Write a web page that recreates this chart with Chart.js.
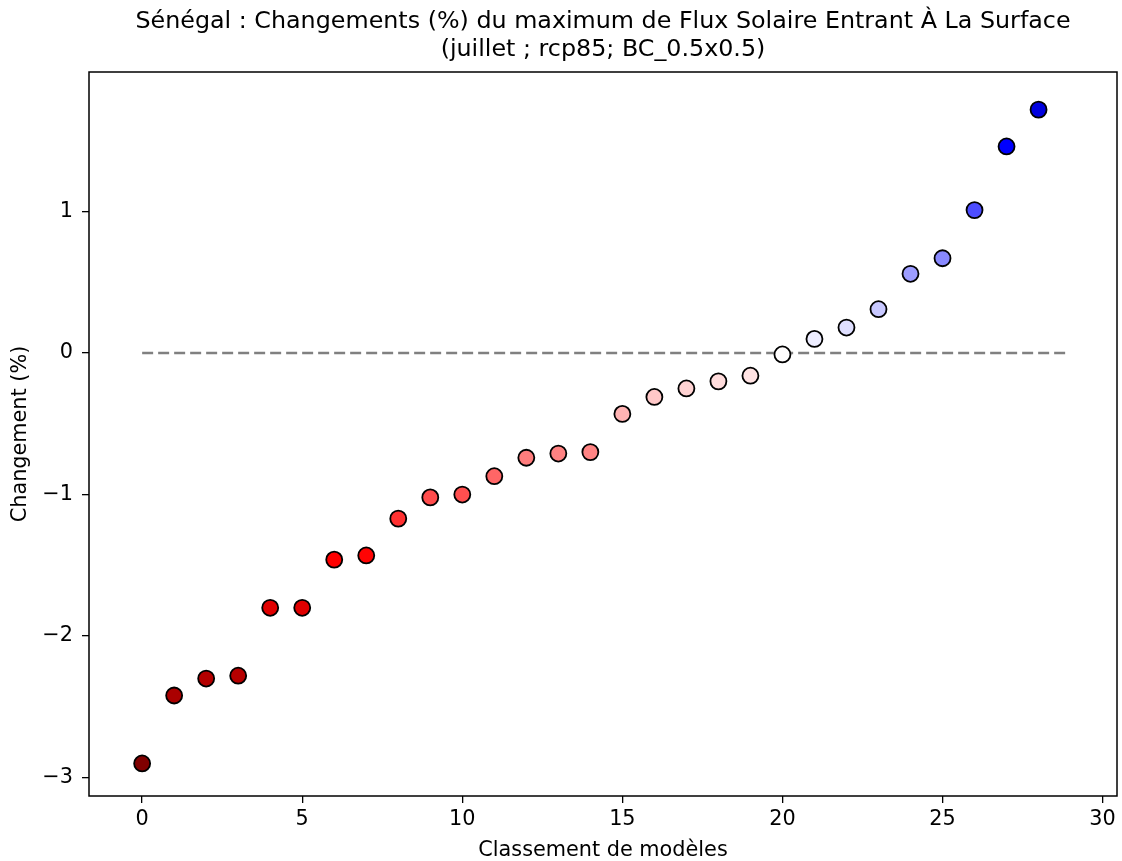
<!DOCTYPE html>
<html>
<head>
<meta charset="utf-8">
<script src="https://cdn.jsdelivr.net/npm/chart.js@4"></script>
<style>
  html, body { margin: 0; padding: 0; background: #fff; }
  #wrap { width: 1122px; height: 861px; }
</style>
</head>
<body>
<div id="wrap"><canvas id="chart" width="1122" height="861"></canvas></div>
<script>
// rang des modèles et changements (%)
var rangs = [0, 1, 2, 3, 4, 5, 6, 7, 8, 9, 10, 11, 12, 13, 14, 15, 16, 17, 18, 19, 20, 21, 22, 23, 24, 25, 26, 27, 28];
var changements = [-2.90, -2.42, -2.30, -2.28, -1.80, -1.80, -1.46, -1.43, -1.17, -1.02, -1.00, -0.87, -0.74, -0.71, -0.70,
                   -0.43, -0.31, -0.25, -0.20, -0.16, -0.01, 0.10, 0.18, 0.31, 0.56, 0.67, 1.01, 1.46, 1.72];
var ligneZeroX = [0, 28.9];
var ticksX = [0, 5, 10, 15, 20, 25, 30];
var ticksY = [-3, -2, -1, 0, 1];
var titre = ['Sénégal : Changements (%) du maximum de Flux Solaire Entrant À La Surface', '(juillet ; rcp85; BC_0.5x0.5)'];

// colormap "seismic_r" normalisée de facon symétrique
function seismicR(v, vmax) {
    var t = 1 - (v + vmax) / (2 * vmax);   // position dans "seismic"
    var r, g, b;
    if (t < 0.25) { r = 0; g = 0; b = 0.3 + 0.7 * t / 0.25; }
    else if (t < 0.5) { var f = (t - 0.25) / 0.25; r = f; g = f; b = 1; }
    else if (t < 0.75) { var f2 = (t - 0.5) / 0.25; r = 1; g = 1 - f2; b = 1 - f2; }
    else { r = 1 - 0.5 * (t - 0.75) / 0.25; g = 0; b = 0; }
    return 'rgb(' + Math.round(r * 255) + ',' + Math.round(g * 255) + ',' + Math.round(b * 255) + ')';
}
var vmax = Math.max.apply(null, changements.map(Math.abs));
var couleurs = changements.map(function (v) { return seismicR(v, vmax); });

var points = rangs.map(function (r, i) { return { x: r, y: changements[i] }; });

var police = "'DejaVu Sans', sans-serif";
function moins(v) { return String(v).replace('-', '\u2212'); }

// cadre autour des axes + titre centré sur la zone de tracé (comme matplotlib)
var cadre = {
    id: 'cadre',
    afterDatasetsDraw: function (chart) {
        var a = chart.chartArea, c = chart.ctx;
        c.save();
        c.strokeStyle = '#000';
        c.lineWidth = 1.5;
        c.strokeRect(a.left, a.top, a.right - a.left, a.bottom - a.top);
        c.fillStyle = '#000';
        c.font = '23.8px ' + police;
        c.textAlign = 'center';
        c.textBaseline = 'middle';
        var cx = (a.left + a.right) / 2;
        c.fillText(titre[0], cx, 22);
        c.fillText(titre[1], cx, 50);
        c.restore();
    }
};

var ctx = document.getElementById('chart');
var chartGraph = new Chart(ctx, {
    type: 'scatter',
    data: {
        datasets: [
            {
                data: points,
                backgroundColor: couleurs,
                borderColor: '#000',
                borderWidth: 1.8,
                pointRadius: 8,
                pointHoverRadius: 8,
                order: 0
            },
            {
                type: 'line',
                data: ligneZeroX.map(function (x) { return { x: x, y: 0 }; }),
                borderColor: '#808080',
                borderWidth: 2.6,
                borderDash: [11, 5],
                pointRadius: 0,
                fill: false,
                order: 1
            }
        ]
    },
    options: {
        responsive: false,
        animation: false,
        layout: { autoPadding: false, padding: { left: 0, right: 5, top: 72, bottom: 0 } },
        plugins: {
            legend: { display: false },
            tooltip: { enabled: false },
            title: { display: false }
        },
        scales: {
            x: {
                type: 'linear',
                min: -1.66,
                max: 30.45,
                afterBuildTicks: function (s) { s.ticks = ticksX.map(function (v) { return { value: v }; }); },
                afterFit: function (s) { s.height = 65; },
                grid: { drawOnChartArea: false, color: '#000', tickLength: 7, lineWidth: 1.3 },
                border: { display: false },
                ticks: { color: '#000', padding: 4, maxRotation: 0, font: { family: police, size: 20.8 } },
                title: {
                    display: true,
                    text: 'Classement de modèles',
                    color: '#000',
                    font: { family: police, size: 20.8, lineHeight: 1 },
                    padding: { top: 0, bottom: 0 }
                }
            },
            y: {
                type: 'linear',
                min: -3.13,
                max: 1.986,
                afterBuildTicks: function (s) { s.ticks = ticksY.map(function (v) { return { value: v }; }); },
                afterFit: function (s) { s.width = 89; },
                grid: { drawOnChartArea: false, color: '#000', tickLength: 7, lineWidth: 1.3 },
                border: { display: false },
                ticks: { color: '#000', padding: 9, font: { family: police, size: 20.8 }, callback: function (v) { return moins(v); } },
                title: {
                    display: true,
                    text: 'Changement (%)',
                    color: '#000',
                    font: { family: police, size: 20.8, lineHeight: 1 },
                    padding: { top: 10, bottom: 0 }
                }
            }
        }
    },
    plugins: [cadre]
});
</script>
</body>
</html>
